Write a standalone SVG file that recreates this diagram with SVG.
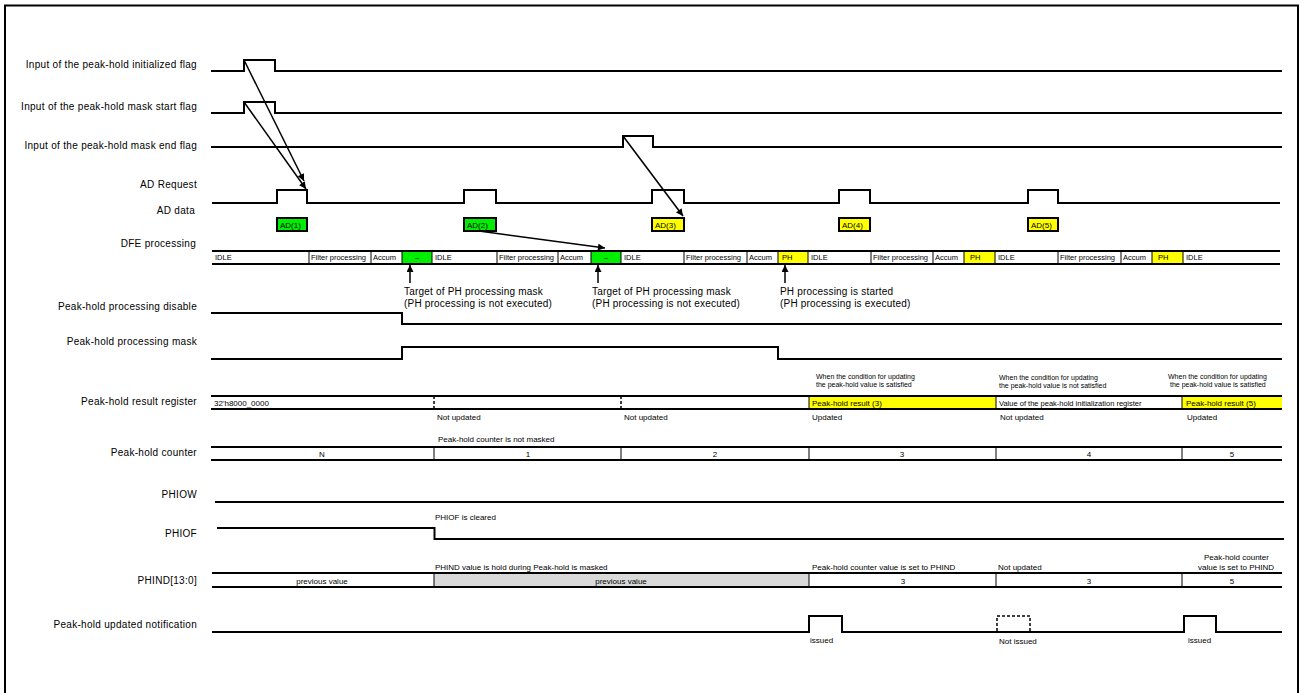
<svg xmlns="http://www.w3.org/2000/svg" width="1300" height="693" viewBox="0 0 1300 693">
<defs>
<style>
.frame{fill:none;stroke:#000;stroke-width:2}
.sig{fill:none;stroke:#000;stroke-width:2}
.thin{fill:none;stroke:#000;stroke-width:1}
.dash{fill:none;stroke:#000;stroke-width:1.5;stroke-dasharray:3,2}
.lbl{font-family:"Liberation Sans",Arial,sans-serif;font-size:10px;letter-spacing:0.3px;fill:#000;text-anchor:end}
.ann{font-family:"Liberation Sans",Arial,sans-serif;font-size:10px;letter-spacing:0.2px;fill:#000}
.sm{font-family:"Liberation Sans",Arial,sans-serif;font-size:8px;fill:#000}
.wh{font-family:"Liberation Sans",Arial,sans-serif;font-size:7px;fill:#000}
.cell{font-family:"Liberation Sans",Arial,sans-serif;font-size:7.5px;fill:#000}
.adt{font-family:"Liberation Sans",Arial,sans-serif;font-size:8px;fill:#000}
.mid{text-anchor:middle}
.g{fill:#00ee00}
.y{fill:#ffff00}
.gray{fill:#d9d9d9}
.box{stroke:#000;stroke-width:2}
.conn{fill:none;stroke:#000;stroke-width:1.5}
</style>
<marker id="ah" viewBox="0 0 10 10" refX="10" refY="5" markerWidth="9" markerHeight="7" markerUnits="userSpaceOnUse" orient="auto">
<path d="M0,0 L10,5 L0,10 z" fill="#000"/>
</marker>
</defs>
<rect class="frame" x="5" y="5.5" width="1293" height="700"/>

<g id="init-flag">
<text class="lbl" x="197" y="67.5">Input of the peak-hold initialized flag</text>
<path class="sig" d="M211,71 H244 V60 H275 V71 H1282"/>
</g>
<g id="mask-start-flag">
<text class="lbl" x="197" y="109.5">Input of the peak-hold mask start flag</text>
<path class="sig" d="M211,113 H244 V102 H275 V113 H1282"/>
</g>
<g id="mask-end-flag">
<text class="lbl" x="197" y="148.5">Input of the peak-hold mask end flag</text>
<path class="sig" d="M211,147 H623 V136 H653 V147 H1282"/>
</g>
<g id="ad-request">
<text class="lbl" x="197" y="187.5">AD Request</text>
<path class="sig" d="M212,203 H277 V190 H307 V203 H464 V190 H496 V203 H652 V190 H684 V203 H839 V190 H870 V203 H1028 V190 H1058 V203 H1280"/>
</g>
<g id="ad-data">
<text class="lbl" x="195" y="213.5">AD data</text>
<rect class="g box" x="277" y="218" width="30" height="13"/>
<text class="adt" x="280" y="227.5">AD(1)</text>
<rect class="g box" x="464" y="218" width="32" height="13"/>
<text class="adt" x="467" y="227.5">AD(2)</text>
<rect class="y box" x="652" y="218" width="32" height="13"/>
<text class="adt" x="655" y="227.5">AD(3)</text>
<rect class="y box" x="839" y="218" width="31" height="13"/>
<text class="adt" x="842" y="227.5">AD(4)</text>
<rect class="y box" x="1028" y="218" width="30" height="13"/>
<text class="adt" x="1031" y="227.5">AD(5)</text>
</g>
<g id="dfe-processing">
<text class="lbl" x="196" y="246.5">DFE processing</text>
<rect class="g" x="402" y="251" width="30" height="13"/>
<rect class="g" x="591" y="251" width="30" height="13"/>
<rect class="y" x="778" y="251" width="30" height="13"/>
<rect class="y" x="964" y="251" width="31" height="13"/>
<rect class="y" x="1152" y="251" width="31" height="13"/>
<path class="sig" d="M212,251 H1280 M212,264 H1280"/>
<path class="thin" d="M309,251V264 M371,251V264 M402,251V264 M432,251V264 M497,251V264 M558,251V264 M591,251V264 M621,251V264 M684,251V264 M747,251V264 M778,251V264 M808,251V264 M871,251V264 M933,251V264 M964,251V264 M995,251V264 M1058,251V264 M1121,251V264 M1152,251V264 M1183,251V264"/>
<text class="cell" x="215" y="260">IDLE</text>
<text class="cell" x="311" y="260">Filter processing</text>
<text class="cell" x="373" y="260">Accum</text>
<text class="cell mid" x="417" y="260">–</text>
<text class="cell" x="435" y="260">IDLE</text>
<text class="cell" x="499" y="260">Filter processing</text>
<text class="cell" x="560" y="260">Accum</text>
<text class="cell mid" x="606" y="260">–</text>
<text class="cell" x="624" y="260">IDLE</text>
<text class="cell" x="686" y="260">Filter processing</text>
<text class="cell" x="749" y="260">Accum</text>
<text class="cell" x="782" y="260">PH</text>
<text class="cell" x="811" y="260">IDLE</text>
<text class="cell" x="873" y="260">Filter processing</text>
<text class="cell" x="935" y="260">Accum</text>
<text class="cell" x="970" y="260">PH</text>
<text class="cell" x="998" y="260">IDLE</text>
<text class="cell" x="1060" y="260">Filter processing</text>
<text class="cell" x="1123" y="260">Accum</text>
<text class="cell" x="1158" y="260">PH</text>
<text class="cell" x="1186" y="260">IDLE</text>
</g>
<g id="annotations">
<text class="ann" x="404" y="295">Target of PH processing mask</text>
<text class="ann" x="404" y="307">(PH processing is not executed)</text>
<text class="ann" x="592" y="295">Target of PH processing mask</text>
<text class="ann" x="592" y="307">(PH processing is not executed)</text>
<text class="ann" x="780" y="295">PH processing is started</text>
<text class="ann" x="780" y="307">(PH processing is executed)</text>
</g>
<g id="ph-disable">
<text class="lbl" x="197" y="309.5">Peak-hold processing disable</text>
<path class="sig" d="M211,313 H402 V324 H1282"/>
</g>
<g id="ph-mask">
<text class="lbl" x="197" y="344.5">Peak-hold processing mask</text>
<path class="sig" d="M211,359 H402 V347 H778 V359 H1282"/>
</g>
<g id="ph-result-register">
<text class="lbl" x="197" y="404.5">Peak-hold result register</text>
<rect class="y" x="809" y="396" width="187" height="13"/>
<rect class="y" x="1182" y="396" width="100" height="13"/>
<path class="sig" d="M211,396 H1282 M211,409 H1282"/>
<path class="dash" d="M434,396V409 M621,396V409"/>
<path class="thin" d="M809,396V409 M996,396V409 M1182,396V409"/>
<text class="sm" x="214" y="405.5">32'h8000_0000</text>
<text class="sm" x="812" y="405.5">Peak-hold result (3)</text>
<text class="wh" x="999" y="405.5" style="font-size:7.5px">Value of the peak-hold initialization register</text>
<text class="sm" x="1186" y="405.5">Peak-hold result (5)</text>
<text class="wh" x="816" y="379">When the condition for updating</text>
<text class="wh" x="816" y="387">the peak-hold value is satisfied</text>
<text class="wh" x="999" y="380">When the condition for updating</text>
<text class="wh" x="999" y="388">the peak-hold value is not satisfied</text>
<text class="wh" x="1168" y="379">When the condition for updating</text>
<text class="wh" x="1170" y="387">the peak-hold value is satisfied</text>
<text class="sm" x="437" y="419.5">Not updated</text>
<text class="sm" x="624" y="419.5">Not updated</text>
<text class="sm" x="812" y="419.5">Updated</text>
<text class="sm" x="1000" y="419.5">Not updated</text>
<text class="sm" x="1187" y="419.5">Updated</text>
</g>
<g id="ph-counter">
<text class="lbl" x="197" y="455.5">Peak-hold counter</text>
<text class="sm" x="438" y="442">Peak-hold counter is not masked</text>
<path class="sig" d="M211,447 H1282 M211,460 H1282"/>
<path class="thin" d="M434,447V460 M621,447V460 M809,447V460 M996,447V460 M1182,447V460"/>
<text class="sm mid" x="322" y="456.5">N</text>
<text class="sm mid" x="528" y="456.5">1</text>
<text class="sm mid" x="715" y="456.5">2</text>
<text class="sm mid" x="902" y="456.5">3</text>
<text class="sm mid" x="1089" y="456.5">4</text>
<text class="sm mid" x="1232" y="456.5">5</text>
</g>
<g id="phiow">
<text class="lbl" x="197" y="497.5">PHIOW</text>
<path class="sig" d="M215,502 H1284"/>
</g>
<g id="phiof">
<text class="lbl" x="197" y="536.5">PHIOF</text>
<text class="sm" x="435" y="519.5">PHIOF is cleared</text>
<path class="sig" d="M217,528 H434.5 V539 H1284"/>
</g>
<g id="phind">
<text class="lbl" x="197" y="583.5">PHIND[13:0]</text>
<text class="sm" x="435" y="569.5">PHIND value is hold during Peak-hold is masked</text>
<rect class="gray" x="434" y="573" width="375" height="14"/>
<path class="sig" d="M212,573 H1282 M212,587 H1282"/>
<path class="thin" d="M434,573V587 M809,573V587 M996,573V587 M1182,573V587"/>
<text class="sm mid" x="322" y="583.5">previous value</text>
<text class="sm mid" x="621" y="583.5">previous value</text>
<text class="sm mid" x="903" y="583.5">3</text>
<text class="sm mid" x="1089" y="583.5">3</text>
<text class="sm mid" x="1232" y="583.5">5</text>
<text class="sm" x="812" y="569.5">Peak-hold counter value is set to PHIND</text>
<text class="sm" x="998" y="569.5">Not updated</text>
<text class="sm" x="1204" y="560">Peak-hold counter</text>
<text class="sm" x="1198" y="569.5">value is set to PHIND</text>
</g>
<g id="ph-updated-notification">
<text class="lbl" x="197" y="627.5">Peak-hold updated notification</text>
<path class="sig" d="M212,632 H809 V616 H842 V632 H1184 V616 H1216 V632 H1282"/>
<path class="dash" d="M997,631 V616 H1030 V631"/>
<text class="sm" x="810" y="642.5">issued</text>
<text class="sm" x="999" y="643.5">Not issued</text>
<text class="sm" x="1188" y="642.5">issued</text>
</g>

<g id="connectors">
<line class="conn" x1="244" y1="60" x2="304" y2="181" marker-end="url(#ah)"/>
<line class="conn" x1="244" y1="102" x2="306" y2="189" marker-end="url(#ah)"/>
<line class="conn" x1="623" y1="136" x2="683" y2="216" marker-end="url(#ah)"/>
<line class="conn" x1="479" y1="231" x2="605" y2="248" marker-end="url(#ah)"/>
<line class="conn" x1="410" y1="283" x2="410" y2="265" marker-end="url(#ah)"/>
<line class="conn" x1="598" y1="283" x2="598" y2="265" marker-end="url(#ah)"/>
<line class="conn" x1="785" y1="283" x2="785" y2="265" marker-end="url(#ah)"/>
</g>
</svg>
